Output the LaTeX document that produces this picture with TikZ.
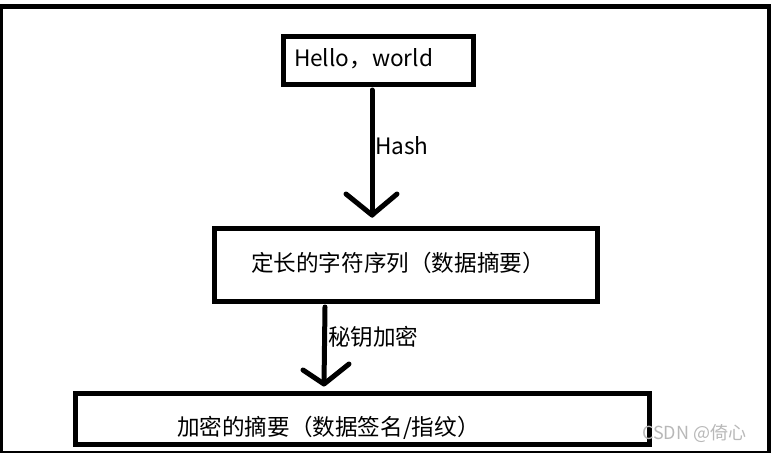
\documentclass[tikz,border=0pt]{standalone}
\usepackage{fontspec}
\setmainfont{Noto Sans CJK SC}
\usetikzlibrary{calc}
\begin{document}
\begin{tikzpicture}[x=1pt,y=-1pt,
  box/.style={draw=black,line width=5pt,inner sep=0pt,outer sep=0pt},
  txt/.style={inner sep=0pt,outer sep=0pt,anchor=base west,font=\fontsize{22.6}{26}\selectfont},
  wmark/.style={inner sep=0pt,outer sep=0pt,anchor=base west,text=black!28,font=\fontsize{18}{21}\selectfont},
  frame/.style={draw=black},
  arr/.style={draw=black,line width=5pt,line cap=round,line join=round}]
\useasboundingbox (0,0) rectangle (771,453);
% outer frame
\draw[frame,line width=5pt] (0,6.5) -- (771,6.5);
\draw[frame,line width=3pt] (1.5,4) -- (1.5,453);
\draw[frame,line width=3.5pt] (769.2,4) -- (769.2,453);
\draw[frame,line width=2pt] (0,451.5) -- (771,451.5);
% boxes
\node[box,minimum width=190pt,minimum height=48pt] (b1) at (378.5,60.5) {};
\node[box,minimum width=383pt,minimum height=73pt] (b2) at (406,265) {};
\node[box,minimum width=574pt,minimum height=51pt] (b3) at (362.5,419) {};
% texts
\node[txt] (t1) at (294,66) {Hello，world};
\node[txt] (t2) at (251,271) {定长的字符序列（数据摘要）};
\node[txt] (t3) at (177,435) {加密的摘要（数据签名/指纹）};
\node[txt] (l1) at (375,154) {Hash};
\node[txt] (l2) at (328,345) {秘钥加密};
\node[wmark] (wm) at (642,439) {CSDN @倚心};
% arrows
\coordinate (a1s) at ($(b1.south)+(-6.5,5.5)$);
\coordinate (a1t) at ($(b2.north)+(-34,-13.5)$);
\draw[arr] (a1s) -- (a1t);
\draw[arr] ($(a1t)+(-26,-21)$) -- (a1t) -- ($(a1t)+(25,-21)$);
\coordinate (a2s) at ($(b2.south)+(-81,5.5)$);
\coordinate (a2t) at ($(b3.north)+(-38.5,-9.5)$);
\draw[arr] (a2s) -- (a2t);
\draw[arr] ($(a2t)+(-21,-14)$) -- (a2t) -- ($(a2t)+(25,-20)$);
\end{tikzpicture}
\end{document}
